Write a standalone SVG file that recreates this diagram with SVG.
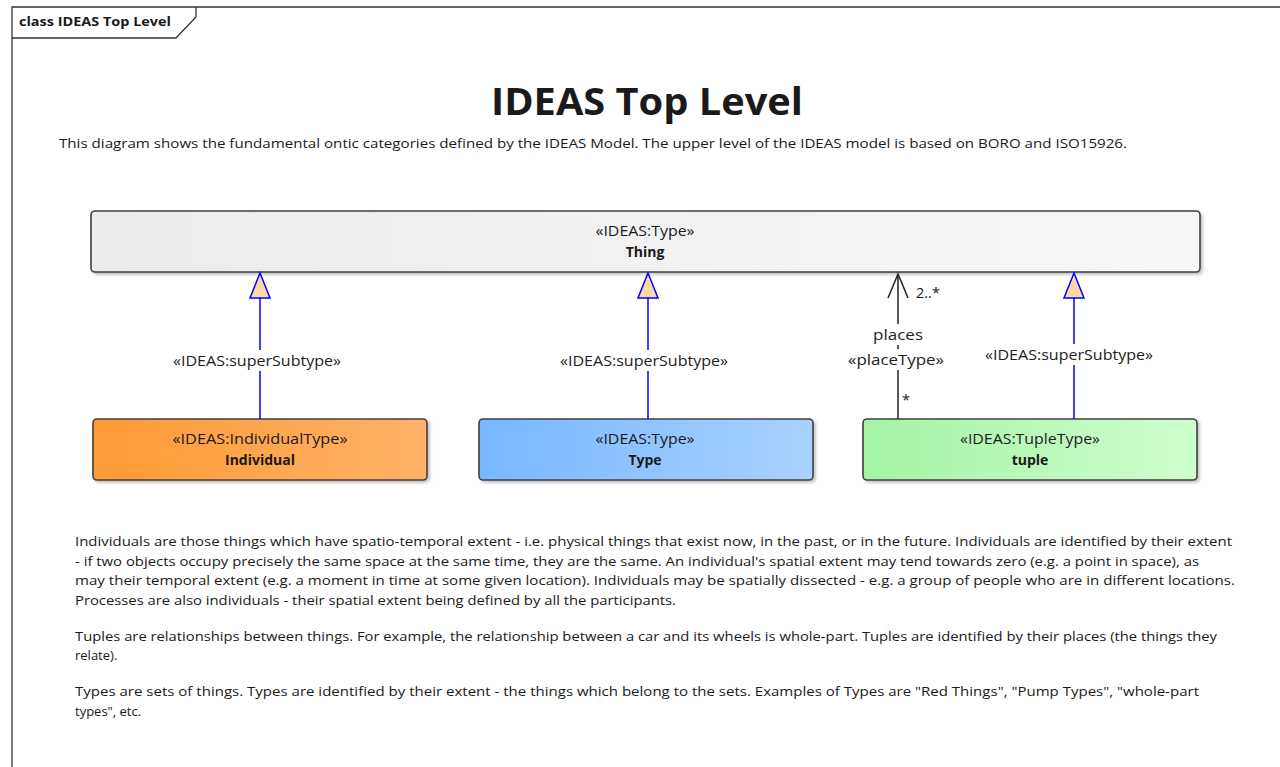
<svg xmlns="http://www.w3.org/2000/svg" width="1280" height="767" viewBox="0 0 1280 767">
  <defs>
    <linearGradient id="gThing" x1="0" y1="0" x2="1" y2="0">
      <stop offset="0" stop-color="#ececec"/>
      <stop offset="1" stop-color="#f7f7f7"/>
    </linearGradient>
    <linearGradient id="gIndividual" x1="0" y1="0" x2="1" y2="0">
      <stop offset="0" stop-color="#ff9a36"/>
      <stop offset="1" stop-color="#ffb268"/>
    </linearGradient>
    <linearGradient id="gType" x1="0" y1="0" x2="1" y2="0">
      <stop offset="0" stop-color="#78b7ff"/>
      <stop offset="1" stop-color="#a9d2ff"/>
    </linearGradient>
    <linearGradient id="gTuple" x1="0" y1="0" x2="1" y2="0">
      <stop offset="0" stop-color="#a4f4a4"/>
      <stop offset="1" stop-color="#ceffce"/>
    </linearGradient>
    <filter id="shadow" x="-5%" y="-20%" width="110%" height="150%">
      <feDropShadow dx="2" dy="2" stdDeviation="1.5" flood-color="#000" flood-opacity="0.25"/>
    </filter>
  </defs>
  <style>
    text { font-family: "Open Sans", "Noto Sans", "DejaVu Sans", sans-serif; fill: #1a1a1a; }
    .node rect { stroke: #404040; stroke-width: 1.6; }
    .st { font-size: 14.5px; text-anchor: middle; }
    .nm { font-size: 14px; font-weight: bold; text-anchor: middle; }
    .gen { stroke: #0000ff; stroke-width: 1.5; fill: none; }
    .tri { fill: #fbd8a6; stroke: #0000ff; stroke-width: 1.5; }
    .assoc { stroke: #222; stroke-width: 1.5; fill: none; }
    .lbl { font-size: 14.5px; text-anchor: middle; fill: #222; }
    .note { font-size: 13px; }
    .mask { fill: #ffffff; }
  </style>

  <rect width="1280" height="767" fill="#ffffff"/>

  <!-- diagram frame with name tab -->
  <g id="frame">
    <path d="M12 767 V7 H1280" fill="none" stroke="#333" stroke-width="1.3"/>
    <path d="M12 38 H176 L196 17 V7" fill="none" stroke="#333" stroke-width="1.3"/>
    <text x="19" y="26" style="font-size:13px;font-weight:bold" textLength="152" lengthAdjust="spacingAndGlyphs">class IDEAS Top Level</text>
  </g>

  <!-- heading and description -->
  <g id="title">
    <text x="647" y="115" style="font-size:37px;font-weight:bold;text-anchor:middle" textLength="312" lengthAdjust="spacingAndGlyphs">IDEAS Top Level</text>
    <text x="59" y="148" class="note" textLength="1068" lengthAdjust="spacingAndGlyphs">This diagram shows the fundamental ontic categories defined by the IDEAS Model. The upper level of the IDEAS model is based on BORO and ISO15926.</text>
  </g>

  <!-- nodes -->
  <g id="Thing" class="node">
    <rect x="91" y="211" width="1109" height="61" rx="4" fill="url(#gThing)" filter="url(#shadow)"/>
    <text x="645" y="236" class="st" textLength="99" lengthAdjust="spacingAndGlyphs">«IDEAS:Type»</text>
    <text x="645" y="257" class="nm">Thing</text>
  </g>
  <g id="Individual" class="node">
    <rect x="93" y="419" width="334" height="61" rx="4" fill="url(#gIndividual)" filter="url(#shadow)"/>
    <text x="260" y="444" class="st" textLength="175" lengthAdjust="spacingAndGlyphs">«IDEAS:IndividualType»</text>
    <text x="260" y="465" class="nm">Individual</text>
  </g>
  <g id="Type" class="node">
    <rect x="479" y="419" width="334" height="61" rx="4" fill="url(#gType)" filter="url(#shadow)"/>
    <text x="645" y="444" class="st" textLength="99" lengthAdjust="spacingAndGlyphs">«IDEAS:Type»</text>
    <text x="645" y="465" class="nm">Type</text>
  </g>
  <g id="tuple" class="node">
    <rect x="863" y="419" width="334" height="61" rx="4" fill="url(#gTuple)" filter="url(#shadow)"/>
    <text x="1030" y="444" class="st" textLength="140" lengthAdjust="spacingAndGlyphs">«IDEAS:TupleType»</text>
    <text x="1030" y="465" class="nm">tuple</text>
  </g>

  <!-- connectors -->
  <g id="connectors">
    <!-- Individual to Thing -->
    <line x1="260" y1="419" x2="260" y2="298" class="gen"/>
    <polygon points="260,273 250,298 270,298" class="tri"/>
    <rect x="170" y="350" width="174" height="21" class="mask"/>
    <text x="257" y="366" class="lbl" textLength="168" lengthAdjust="spacingAndGlyphs">«IDEAS:superSubtype»</text>

    <!-- Type to Thing -->
    <line x1="648" y1="419" x2="648" y2="298" class="gen"/>
    <polygon points="648,273 638,298 658,298" class="tri"/>
    <rect x="557" y="350" width="174" height="21" class="mask"/>
    <text x="644" y="366" class="lbl" textLength="168" lengthAdjust="spacingAndGlyphs">«IDEAS:superSubtype»</text>

    <!-- tuple to Thing -->
    <line x1="1074" y1="419" x2="1074" y2="298" class="gen"/>
    <polygon points="1074,273 1064,298 1084,298" class="tri"/>
    <rect x="982" y="344" width="174" height="21" class="mask"/>
    <text x="1069" y="360" class="lbl" textLength="168" lengthAdjust="spacingAndGlyphs">«IDEAS:superSubtype»</text>

    <!-- tuple places Thing -->
    <line x1="898" y1="419" x2="898" y2="274" class="assoc"/>
    <polyline points="888,298 898,274 908,298" class="assoc"/>
    <rect x="866" y="324" width="64" height="21" class="mask"/>
    <rect x="844" y="349" width="108" height="21" class="mask"/>
    <text x="898" y="340" class="lbl" textLength="50" lengthAdjust="spacingAndGlyphs">places</text>
    <text x="896" y="365" class="lbl" textLength="96" lengthAdjust="spacingAndGlyphs">«placeType»</text>
    <text x="916" y="298" style="font-size:14.5px">2..*</text>
    <text x="902" y="405" style="font-size:14.5px">*</text>
  </g>

  <!-- explanatory notes -->
  <g id="notes">
    <text x="75" y="546" class="note" textLength="1157" lengthAdjust="spacingAndGlyphs">Individuals are those things which have spatio-temporal extent - i.e. physical things that exist now, in the past, or in the future. Individuals are identified by their extent</text>
    <text x="75" y="566" class="note" textLength="1124" lengthAdjust="spacingAndGlyphs">- if two objects occupy precisely the same space at the same time, they are the same. An individual's spatial extent may tend towards zero (e.g. a point in space), as</text>
    <text x="75" y="585" class="note" textLength="1160" lengthAdjust="spacingAndGlyphs">may their temporal extent (e.g. a moment in time at some given location). Individuals may be spatially dissected - e.g. a group of people who are in different locations.</text>
    <text x="75" y="605" class="note" textLength="601" lengthAdjust="spacingAndGlyphs">Processes are also individuals - their spatial extent being defined by all the participants.</text>
    <text x="75" y="641" class="note" textLength="1142" lengthAdjust="spacingAndGlyphs">Tuples are relationships between things. For example, the relationship between a car and its wheels is whole-part. Tuples are identified by their places (the things they</text>
    <text x="75" y="660" class="note">relate).</text>
    <text x="75" y="696" class="note" textLength="1124" lengthAdjust="spacingAndGlyphs">Types are sets of things. Types are identified by their extent - the things which belong to the sets. Examples of Types are "Red Things", "Pump Types", "whole-part</text>
    <text x="75" y="716" class="note">types", etc.</text>
  </g>
</svg>
